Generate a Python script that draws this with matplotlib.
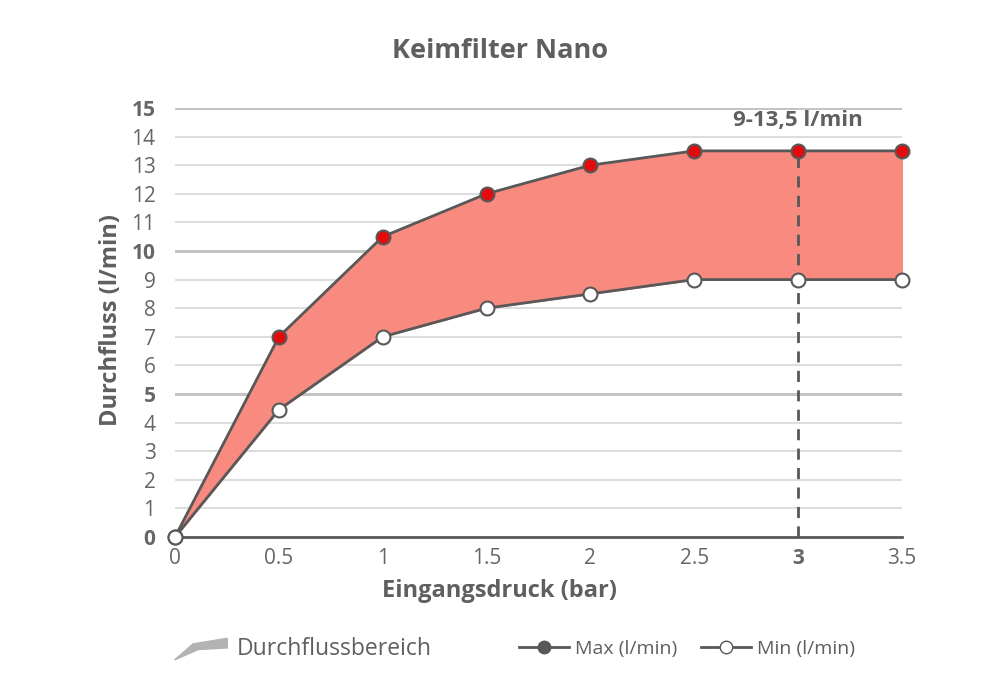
import numpy as np
import matplotlib.pyplot as plt
import matplotlib.patches as mpatches
from matplotlib.lines import Line2D
from matplotlib.legend_handler import HandlerPatch

# data
druck = [0, 0.5, 1, 1.5, 2, 2.5, 3, 3.5]
max_fluss = [0, 7, 10.5, 12, 13, 13.5, 13.5, 13.5]
min_fluss = [0, 4.45, 7, 8, 8.5, 9, 9, 9]
x_ticks = [0, 0.5, 1, 1.5, 2, 2.5, 3, 3.5]
x_labels = ['0', '0.5', '1', '1.5', '2', '2.5', '3', '3.5']
y_ticks = list(range(0, 16))

plt.rcParams['font.family'] = ['Open Sans', 'DejaVu Sans']
grey = '#5f5f5f'
line_col = '#585858'

fig = plt.figure(figsize=(10, 6.98), dpi=100)
ax = fig.add_axes([0.175, 0.2307, 0.727, 0.6146])

# grid lines
for y in y_ticks:
    if y == 0:
        continue
    bold = y % 5 == 0
    ax.axhline(y, color='#c4c4c4' if bold else '#dddddd', lw=2.2 if bold else 1.5, zorder=0)

ax.fill_between(druck, min_fluss, max_fluss, color='#f98a80', zorder=1)
ax.plot(druck, max_fluss, color=line_col, lw=2, zorder=2)
ax.plot(druck, min_fluss, color=line_col, lw=2, zorder=2)
ax.plot(druck, max_fluss, 'o', ms=10, mfc='#e30b0b', mec=line_col, mew=1.5, zorder=4, clip_on=False)
ax.plot(druck, min_fluss, 'o', ms=10, mfc='white', mec=line_col, mew=1.5, zorder=4, clip_on=False)

ax.plot([3, 3], [0, 13.5], color=line_col, lw=2, ls=(0, (4, 3)), zorder=3)
ax.text(3, 14.2, '9-13,5 l/min', ha='center', va='bottom', fontsize=16,
        fontweight='bold', color=grey)

ax.set_xlim(0, 3.5)
ax.set_ylim(0, 15)
for s in ['top', 'right', 'left']:
    ax.spines[s].set_visible(False)
ax.spines['bottom'].set_color(line_col)
ax.spines['bottom'].set_linewidth(2)
ax.spines['bottom'].set_zorder(3)

ax.set_xticks(x_ticks)
ax.set_xticklabels(x_labels)
ax.set_yticks(y_ticks)
ax.set_yticklabels([str(y) for y in y_ticks])
ax.tick_params(length=0, labelsize=15, colors='#666666')
ax.tick_params(axis='y', pad=14)
ax.tick_params(axis='x', pad=8)
for lab in ax.get_yticklabels():
    if int(lab.get_text()) % 5 == 0:
        lab.set_fontweight('bold')
for lab in ax.get_xticklabels():
    if lab.get_text() == '3':
        lab.set_fontweight('bold')

fig.text(0.5, 0.153, 'Eingangsdruck (bar)', ha='center', va='center', fontsize=17,
         fontweight='bold', color=grey)
fig.text(0.111, 0.541, 'Durchfluss (l/min)', ha='center', va='center', rotation=90,
         fontsize=17, fontweight='bold', color=grey)
fig.text(0.5, 0.927, 'Keimfilter Nano', ha='center', va='center', fontsize=19.5,
         fontweight='bold', color=grey)


def wedge(legend, orig_handle, xdescent, ydescent, width, height, fontsize):
    pts = [[0, -0.3 * height], [0.35 * width, 0.7 * height], [width, height * 1.05],
           [width, 0.45 * height], [0.45 * width, 0.35 * height]]
    return mpatches.Polygon(np.array(pts) - [xdescent, ydescent], closed=True)


h_area = mpatches.Patch(color='#b3b3b3', label='Durchflussbereich')
h_max = Line2D([], [], color=line_col, lw=2, marker='o', ms=9, mfc=line_col, mec=line_col,
               label='Max (l/min)')
h_min = Line2D([], [], color=line_col, lw=2, marker='o', ms=9, mfc='white', mec=line_col,
               label='Min (l/min)')

leg1 = fig.legend(handles=[h_area], loc='center', bbox_to_anchor=(0.303, 0.07), frameon=False,
                  fontsize=16.5, handlelength=2.3, handletextpad=0.4,
                  handler_map={mpatches.Patch: HandlerPatch(patch_func=wedge)})
leg2 = fig.legend(handles=[h_max, h_min], loc='center', bbox_to_anchor=(0.687, 0.07),
                  frameon=False, fontsize=14, ncol=2, handlelength=2.6, handletextpad=0.3,
                  columnspacing=1.2)
for leg in (leg1, leg2):
    for t in leg.get_texts():
        t.set_color(grey)

fig.savefig('out.png', dpi=100)
